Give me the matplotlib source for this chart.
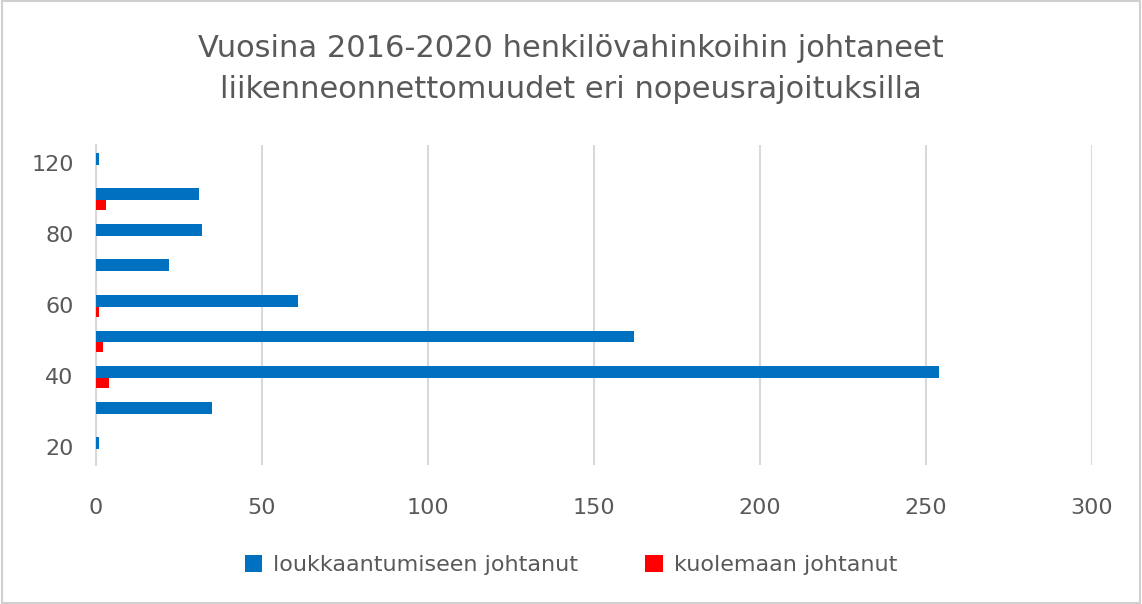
import numpy as np
import matplotlib.pyplot as plt
from matplotlib.patches import Rectangle

speeds = ["20", "30", "40", "50", "60", "70", "80", "100", "120"]
injured = [1, 35, 254, 162, 61, 22, 32, 31, 1]
killed = [0, 0, 4, 2, 1, 0, 0, 3, 0]
ytick_labels = ["20", "", "40", "", "60", "", "80", "", "120"]

title = "Vuosina 2016-2020 henkilövahinkoihin johtaneet\nliikenneonnettomuudet eri nopeusrajoituksilla"
legend_labels = ["loukkaantumiseen johtanut", "kuolemaan johtanut"]

blue = "#0070C0"
red = "#FF0000"
grey_text = "#595959"
grid_col = "#D9D9D9"

fig = plt.figure(figsize=(11.42, 6.04), dpi=100)
fig.patches.append(Rectangle((0.002, 0.002), 0.996, 0.996, transform=fig.transFigure,
                             fill=False, edgecolor="#D0D0D0", linewidth=1.5))

ax = fig.add_axes([0.084, 0.23, 0.872, 0.53])

y = np.arange(len(speeds))
h = 0.33
shift = -0.05  # pair sits a bit below the category centre
# first series on top of each group, as in Excel
ax.barh(y + h / 2 + shift, injured, height=h, color=blue, label=legend_labels[0], zorder=3)
ax.barh(y - h * 0.85 / 2 + shift, killed, height=h * 0.85, color=red, label=legend_labels[1], zorder=3)
ax.set_ylim(-0.5, len(speeds) - 0.5)

ax.set_xlim(0, 300)
ax.set_xticks(range(0, 301, 50))
ax.set_yticks(y)
ax.set_yticklabels(ytick_labels)
ax.tick_params(axis='both', length=0, labelsize=16, labelcolor=grey_text)
ax.tick_params(axis='x', pad=24)
ax.tick_params(axis='y', pad=16)
ax.xaxis.grid(True, color=grid_col, linewidth=1.5, zorder=0)
for s in ["top", "right", "bottom"]:
    ax.spines[s].set_visible(False)
ax.spines["left"].set_color(grid_col)
ax.spines["left"].set_linewidth(1.5)

fig.text(0.5, 0.886, title, ha='center', va='center', fontsize=22,
         color=grey_text, linespacing=1.55)

fig.legend(loc='center', bbox_to_anchor=(0.5, 0.064), ncol=2, frameon=False,
           fontsize=16, labelcolor=grey_text, handlelength=0.8, handleheight=0.8,
           columnspacing=3.0, handletextpad=0.5)

fig.savefig("out.png", dpi=100)
